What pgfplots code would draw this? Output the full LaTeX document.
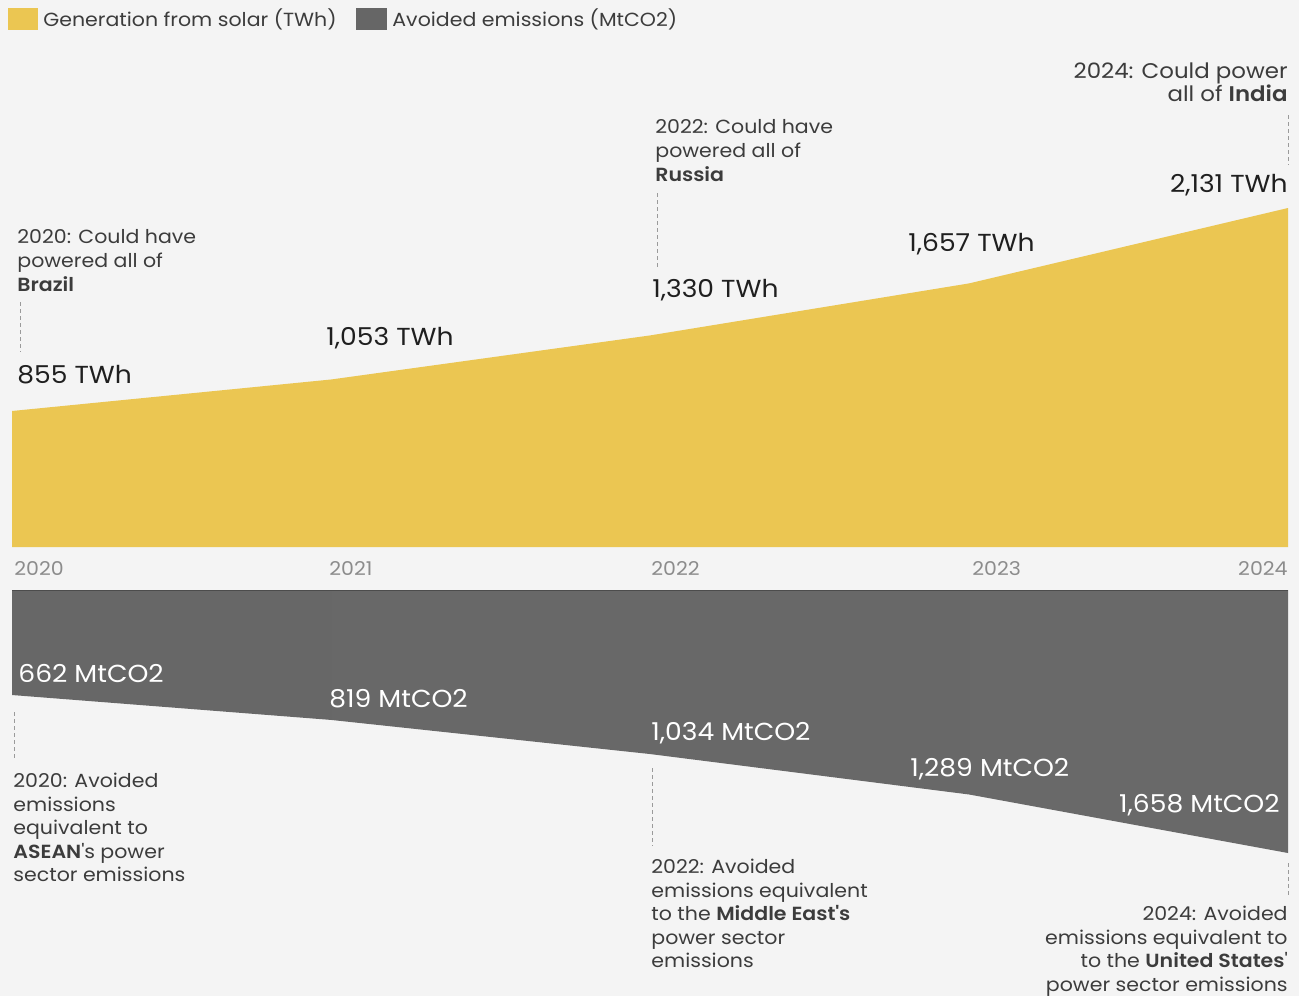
\documentclass[border=0pt]{standalone}
\usepackage{pgfplots}
\pgfplotsset{compat=1.18}
\usepackage{fontspec}
\setmainfont{Poppins}[FakeStretch=1.08, BoldFont={Poppins SemiBold}]

\definecolor{bg}{HTML}{F4F4F4}
\definecolor{solar}{HTML}{EBC652}
\definecolor{smokeA}{HTML}{676767}
\definecolor{smokeB}{HTML}{565656}
\definecolor{smokeC}{HTML}{696969}
\definecolor{legendgray}{HTML}{666666}
\definecolor{note}{HTML}{3C3C3C}
\definecolor{tick}{HTML}{8C8C8C}
\definecolor{leader}{HTML}{9A9A9A}

\newcommand{\notefont}{\fontsize{9.5}{12}\selectfont}
\newcommand{\lownotefont}{\fontsize{9.5}{11.75}\selectfont}
\newcommand{\bignotefont}{\fontsize{10.6}{11.5}\selectfont}
\newcommand{\valfont}{\fontsize{12.3}{14}\selectfont}

\begin{document}
\begin{tikzpicture}
\fill[bg] (0pt,0pt) rectangle (649.5pt,-498pt);

% solar generation (TWh)
\begin{axis}[
    at={(6pt,-273.5pt)}, anchor=south west,
    width=638pt, height=169.5pt, scale only axis,
    xmin=2020, xmax=2024, ymin=0, ymax=2131,
    axis lines=none, clip=false,
]
\addplot[draw=none, fill=solar] coordinates {
    (2020,855) (2021,1053) (2022,1330) (2023,1657) (2024,2131)
} \closedcycle;
\end{axis}

% avoided emissions (MtCO2), hanging downwards
\begin{axis}[
    at={(6pt,-295pt)}, anchor=north west,
    width=638pt, height=131.5pt, scale only axis,
    xmin=2020, xmax=2024, ymin=0, ymax=1658, y dir=reverse,
    axis lines=none, clip=false,
]
\addplot[draw=none, left color=smokeA, middle color=smokeB, right color=smokeC] coordinates {
    (2020,662) (2021,819) (2022,1034) (2023,1289) (2024,1658)
} \closedcycle;
\end{axis}

\begin{scope}[x=0.5pt, y=-0.5pt, every node/.style={inner sep=0pt}]
  % thin dark rim on top of the emissions band
  \draw[black!70, line width=0.6pt] (12,590.5) -- (1288,590.5);

  % legend
  \fill[solar] (8,8) rectangle (38,30);
  \node[anchor=base west, font=\notefont, text=note] at (43,26.5) {Generation from solar (TWh)};
  \fill[legendgray] (356,8) rectangle (387,30);
  \node[anchor=base west, font=\notefont, text=note] at (392,26.5) {Avoided emissions (MtCO2)};

  % years
  \begin{scope}[every node/.append style={font=\notefont, text=tick}]
    \node[anchor=base west] at (14,575) {2020};
    \node[anchor=base west] at (329,575) {2021};
    \node[anchor=base west] at (651,575) {2022};
    \node[anchor=base west] at (972,575) {2023};
    \node[anchor=base east] at (1288,575) {2024};
  \end{scope}

  % dashed leaders
  \begin{scope}[draw=leader, line width=0.5pt, dash pattern=on 2pt off 1.5pt]
    \draw (20,302) -- (20,352);
    \draw (657,193) -- (657,268);
    \draw (1288,115) -- (1288,165);
    \draw (14,712) -- (14,760);
    \draw (652,768) -- (652,846);
    \draw (1288,863) -- (1288,897);
  \end{scope}

  % notes
  \begin{scope}[every node/.append style={font=\notefont, text=note}]
    \node[anchor=north west, align=left] at (17,229) {2020: Could have\\powered all of\\\textbf{Brazil}};
    \node[anchor=north west, align=left] at (655,119) {2022: Could have\\powered all of\\\textbf{Russia}};
    \node[anchor=north east, align=right, font=\bignotefont] at (1288,62) {2024: Could power\\all of \textbf{India}};
    \node[anchor=north west, align=left, font=\lownotefont] at (13,773) {2020: Avoided\\emissions\\equivalent to\\\textbf{ASEAN}\textquotesingle s power\\sector emissions};
    \node[anchor=north west, align=left, font=\lownotefont] at (651,859) {2022: Avoided\\emissions equivalent\\to the \textbf{Middle East\textquotesingle s}\\power sector\\emissions};
    \node[anchor=north east, align=right, font=\lownotefont] at (1288,906) {2024: Avoided\\emissions equivalent to\\to the \textbf{United States}\textquotesingle\\power sector emissions};
  \end{scope}

  % values
  \begin{scope}[every node/.append style={font=\valfont, text=black!88}]
    \node[anchor=base west] at (17,383) {855 TWh};
    \node[anchor=base west] at (326,345) {1,053 TWh};
    \node[anchor=base west] at (652,297) {1,330 TWh};
    \node[anchor=base west] at (908,251) {1,657 TWh};
    \node[anchor=base east] at (1288,192) {2,131 TWh};
  \end{scope}
  \begin{scope}[every node/.append style={font=\valfont, text=white}]
    \node[anchor=base west] at (18,682) {662 MtCO2};
    \node[anchor=base west] at (329,707) {819 MtCO2};
    \node[anchor=base west] at (651,740) {1,034 MtCO2};
    \node[anchor=base west] at (910,776) {1,289 MtCO2};
    \node[anchor=base east] at (1280,812) {1,658 MtCO2};
  \end{scope}
\end{scope}

\pgfresetboundingbox
\path (0pt,0pt) rectangle (649.5pt,-498pt);
\end{tikzpicture}
\end{document}
